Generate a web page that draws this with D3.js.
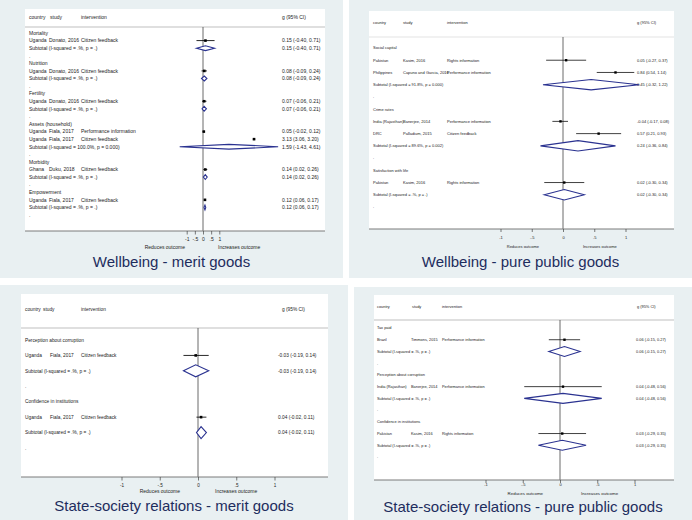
<!DOCTYPE html>
<html><head><meta charset="utf-8">
<script src="https://cdn.jsdelivr.net/npm/d3@7"></script>
<style>html,body{margin:0;padding:0;background:#fff;} svg{display:block;font-family:"Liberation Sans",Arial,Helvetica,sans-serif;}</style>
</head><body><svg id="c" width="692" height="520"></svg>
<script>
// ---------- data ----------
const tickValues = [-1, -0.5, 0, 0.5, 1];
const tickLabels = ["-1", "-.5", "0", ".5", "1"];
const headerLabels = ["country", "study", "intervention", "g (95% CI)"];
const axisLabels = ["Reduces outcome", "Increases outcome"];
const titles = ["Wellbeing - merit goods", "Wellbeing - pure public goods",
  "State-society relations - merit goods", "State-society relations - pure public goods"];
const SUB0 = "Subtotal  (I-squared = .%, p = .)";

const wellbeingMerit = [
  {type:"group", label:"Mortality"},
  {type:"study", country:"Uganda", study:"Donato, 2016", intervention:"Citizen feedback", g:0.15, lo:-0.40, hi:0.71},
  {type:"sub", label:SUB0, g:0.15, lo:-0.40, hi:0.71},
  {type:"blank"},
  {type:"group", label:"Nutrition"},
  {type:"study", country:"Uganda", study:"Donato, 2016", intervention:"Citizen feedback", g:0.08, lo:-0.09, hi:0.24},
  {type:"sub", label:SUB0, g:0.08, lo:-0.09, hi:0.24},
  {type:"blank"},
  {type:"group", label:"Fertility"},
  {type:"study", country:"Uganda", study:"Donato, 2016", intervention:"Citizen feedback", g:0.07, lo:-0.06, hi:0.21},
  {type:"sub", label:SUB0, g:0.07, lo:-0.06, hi:0.21},
  {type:"blank"},
  {type:"group", label:"Assets (household)"},
  {type:"study", country:"Uganda", study:"Fiala, 2017", intervention:"Performance information", g:0.05, lo:-0.02, hi:0.12},
  {type:"study", country:"Uganda", study:"Fiala, 2017", intervention:"Citizen feedback", g:3.13, lo:3.06, hi:3.20},
  {type:"sub", label:"Subtotal  (I-squared = 100.0%, p = 0.000)", g:1.59, lo:-1.43, hi:4.61},
  {type:"blank"},
  {type:"group", label:"Morbidity"},
  {type:"study", country:"Ghana", study:"Duku, 2018", intervention:"Citizen feedback", g:0.14, lo:0.02, hi:0.26},
  {type:"sub", label:SUB0, g:0.14, lo:0.02, hi:0.26},
  {type:"blank"},
  {type:"group", label:"Empowerment"},
  {type:"study", country:"Uganda", study:"Fiala, 2017", intervention:"Citizen feedback", g:0.12, lo:0.06, hi:0.17},
  {type:"sub", label:SUB0, g:0.12, lo:0.06, hi:0.17},
  {type:"blank"}
];

const wellbeingPublic = [
  {type:"group", label:"Social capital"},
  {type:"study", country:"Pakistan", study:"Kasim, 2016", intervention:"Rights information", g:0.05, lo:-0.27, hi:0.37},
  {type:"study", country:"Philippines", study:"Capuno and Garcia, 2016", intervention:"Performance information", g:0.84, lo:0.54, hi:1.14},
  {type:"sub", label:"Subtotal  (I-squared = 91.8%, p = 0.000)", g:0.45, lo:-0.32, hi:1.22},
  {type:"blank"},
  {type:"group", label:"Crime rates"},
  {type:"study", country:"India (Rajasthan)", study:"Banerjee, 2014", intervention:"Performance information", g:-0.04, lo:-0.17, hi:0.08},
  {type:"study", country:"DRC", study:"Palladium, 2015", intervention:"Citizen feedback", g:0.57, lo:0.21, hi:0.93},
  {type:"sub", label:"Subtotal  (I-squared = 89.6%, p = 0.002)", g:0.24, lo:-0.36, hi:0.84},
  {type:"blank"},
  {type:"group", label:"Satisfaction with life"},
  {type:"study", country:"Pakistan", study:"Kasim, 2016", intervention:"Rights information", g:0.02, lo:-0.30, hi:0.34},
  {type:"sub", label:SUB0, g:0.02, lo:-0.30, hi:0.34},
  {type:"blank"}
];

const stateMerit = [
  {type:"group", label:"Perception about corruption"},
  {type:"study", country:"Uganda", study:"Fiala, 2017", intervention:"Citizen feedback", g:-0.03, lo:-0.19, hi:0.14},
  {type:"sub", label:SUB0, g:-0.03, lo:-0.19, hi:0.14},
  {type:"blank"},
  {type:"group", label:"Confidence in institutions"},
  {type:"study", country:"Uganda", study:"Fiala, 2017", intervention:"Citizen feedback", g:0.04, lo:-0.02, hi:0.11},
  {type:"sub", label:SUB0, g:0.04, lo:-0.02, hi:0.11},
  {type:"blank"}
];

const statePublic = [
  {type:"group", label:"Tax paid"},
  {type:"study", country:"Brazil", study:"Timmons, 2015", intervention:"Performance information", g:0.06, lo:-0.15, hi:0.27},
  {type:"sub", label:SUB0, g:0.06, lo:-0.15, hi:0.27},
  {type:"blank"},
  {type:"group", label:"Perception about corruption"},
  {type:"study", country:"India (Rajasthan)", study:"Banerjee, 2014", intervention:"Performance information", g:0.04, lo:-0.48, hi:0.56},
  {type:"sub", label:SUB0, g:0.04, lo:-0.48, hi:0.56},
  {type:"blank"},
  {type:"group", label:"Confidence in institutions"},
  {type:"study", country:"Pakistan", study:"Kasim, 2016", intervention:"Rights information", g:0.03, lo:-0.29, hi:0.35},
  {type:"sub", label:SUB0, g:0.03, lo:-0.29, hi:0.35},
  {type:"blank"}
];

const panelRows = [wellbeingMerit, wellbeingPublic, stateMerit, statePublic];

// ---------- layout (positions / styles only) ----------
const layouts = [
  {bg:[0,0,343,278], box:[25,9,325,231], sep:27, sepC:"#d4d4d4", headY:17, zero:203, unit:16.3, rowY:[33,215],
   cols:[29,49,81,282], hcols:[29,50,81,282], fs:5, dh:2.4, sq:2.6, ci:0.9, titleY:267, tickLen:3.5, tickY:239, tfs:5, outY:247, ofs:5, outGap:[18,15]},
  {bg:[349,0,692,278], box:[369,11,674,229], sep:37, sepC:"#ececec", headY:23, zero:563, unit:62.5, rowY:[48,207],
   cols:[373,403,447,637], hcols:[373,403,447,637], fs:4, dh:5.2, sq:2.4, ci:0.8, titleY:267, tickLen:3, tickY:238, tfs:4, outY:247, ofs:4, outGap:[24,20]},
  {bg:[0,285,348,520], box:[21,294,328,477], sep:328, sepC:"#d4d4d4", headY:309, zero:198, unit:76.5, rowY:[340,448],
   cols:[25,50,81,278], hcols:[25,43,81,282], fs:4.8, dh:6, sq:2.6, ci:0.9, titleY:511, tickLen:3.5, tickY:485, tfs:4.6, outY:491, ofs:5, outGap:[18,17]},
  {bg:[354,287,692,520], box:[374,295,674,480], sep:320, sepC:"#d4d4d4", headY:307, zero:560, unit:74.5, rowY:[328,457],
   cols:[377,411,442,636], hcols:[377,412,442,637], fs:3.9, dh:5, sq:2.4, ci:0.8, titleY:512, tickLen:3, tickY:485, tfs:4, outY:493, ofs:4.4, outGap:[17,21]}
];

const BG = "#e9f0f2", TXT = "#222", NAVY = "#2a3290", TITLE = "#1e2d5e";
const fmt = d3.formatLocale({decimal:".", thousands:",", grouping:[3], currency:["",""], minus:"-"}).format(".2f");
const ciText = d => `${fmt(d.g)} (${fmt(d.lo)}, ${fmt(d.hi)})`;

const svg = d3.select("#c");

panelRows.forEach((rows, pi) => {
  const L = layouts[pi];
  const g = svg.append("g");
  g.append("rect").attr("x", L.bg[0]).attr("y", L.bg[1]).attr("width", L.bg[2]-L.bg[0]).attr("height", L.bg[3]-L.bg[1]).attr("fill", BG);
  g.append("rect").attr("x", L.box[0]).attr("y", L.box[1]).attr("width", L.box[2]-L.box[0]).attr("height", L.box[3]-L.box[1]).attr("fill", "#fff");
  g.append("line").attr("x1", L.box[0]).attr("x2", L.box[2]).attr("y1", L.sep).attr("y2", L.sep).attr("stroke", L.sepC).attr("stroke-width", 1.5);

  const x = d3.scaleLinear().domain([-1, 1]).range([L.zero - L.unit, L.zero + L.unit]);
  const y = d3.scaleLinear().domain([0, rows.length - 1]).range(L.rowY);

  // header
  g.selectAll("text.h").data(headerLabels).join("text").attr("class","h")
    .attr("x", (d,i) => L.hcols[i]).attr("y", L.headY).attr("dy","0.35em")
    .attr("font-size", L.fs).attr("fill", TXT).text(d => d);

  // zero line
  g.append("line").attr("x1", x(0)).attr("x2", x(0)).attr("y1", L.sep).attr("y2", L.box[3]).attr("stroke", "#444").attr("stroke-width", 0.8);

  // axis
  g.append("line").attr("x1", L.box[0]).attr("x2", L.box[2]).attr("y1", L.box[3]).attr("y2", L.box[3]).attr("stroke", "#7a7a7a").attr("stroke-width", 1);
  const ax = g.append("g").attr("transform", `translate(0,${L.box[3]})`)
    .call(d3.axisBottom(x).tickValues(tickValues).tickSize(L.tickLen).tickFormat((d,i) => tickLabels[i]));
  ax.select(".domain").remove();
  ax.selectAll(".tick line").attr("stroke", "#444").attr("stroke-width", 0.7);
  ax.selectAll(".tick text").attr("y", L.tickY - L.box[3]).attr("dy", "0.35em")
    .attr("font-size", L.tfs).attr("font-family", "Liberation Sans, Arial, sans-serif").attr("fill", TXT);
  g.append("text").attr("x", x(0) - L.outGap[0]).attr("y", L.outY).attr("dy","0.35em").attr("text-anchor","end")
    .attr("font-size", L.ofs).attr("fill", TXT).text(axisLabels[0]);
  g.append("text").attr("x", x(0) + L.outGap[1]).attr("y", L.outY).attr("dy","0.35em").attr("text-anchor","start")
    .attr("font-size", L.ofs).attr("fill", TXT).text(axisLabels[1]);

  // rows
  rows.forEach((r, i) => {
    const yy = y(i);
    const t = (xx, s) => g.append("text").attr("x", xx).attr("y", yy).attr("dy","0.35em").attr("font-size", L.fs).attr("fill", TXT).text(s);
    if (r.type === "group") t(L.cols[0], r.label);
    else if (r.type === "blank") t(L.cols[0], ".");
    else if (r.type === "study") {
      t(L.cols[0], r.country); t(L.cols[1], r.study); t(L.cols[2], r.intervention); t(L.cols[3], ciText(r));
      g.append("line").attr("x1", x(r.lo)).attr("x2", x(r.hi)).attr("y1", yy).attr("y2", yy).attr("stroke", "#111").attr("stroke-width", L.ci);
      g.append("rect").attr("x", x(r.g) - L.sq/2).attr("y", yy - L.sq/2).attr("width", L.sq).attr("height", L.sq).attr("fill", "#000");
    } else if (r.type === "sub") {
      t(L.cols[0], r.label); t(L.cols[3], ciText(r));
      const pts = [[x(r.lo), yy], [x(r.g), yy - L.dh], [x(r.hi), yy], [x(r.g), yy + L.dh]];
      g.append("polygon").attr("points", pts.map(p => p.join(",")).join(" "))
        .attr("fill", "#fff").attr("stroke", NAVY).attr("stroke-width", 1.1).attr("stroke-linejoin","miter");
    }
  });

  // title
  g.append("text").attr("x", (L.bg[0] + L.bg[2]) / 2).attr("y", L.titleY).attr("text-anchor","middle")
    .attr("font-size", 15).attr("fill", TITLE).text(titles[pi]);
});
</script>
</body></html>
